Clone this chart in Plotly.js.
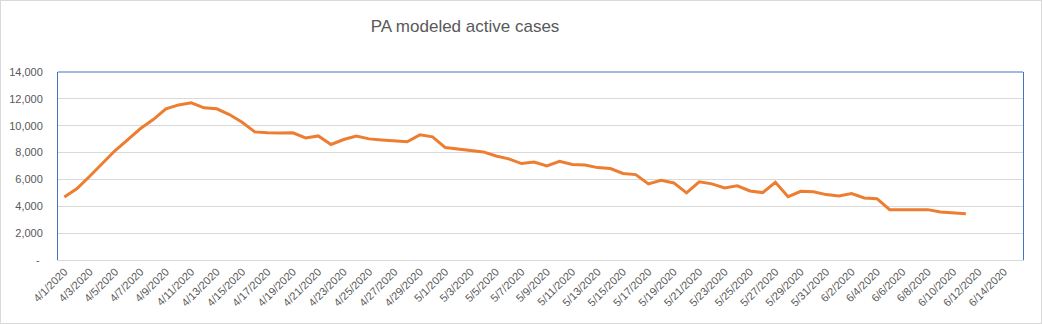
<!DOCTYPE html>
<html>
<head>
<meta charset="utf-8">
<script src="https://cdn.plot.ly/plotly-3.0.1.min.js"></script>
<style>
html,body{margin:0;padding:0;background:#fff;}
#wrap{position:relative;width:1042px;height:324px;}
#chart{width:1042px;height:324px;}
#frame{position:absolute;left:0;top:0;width:1040px;height:322px;border:1px solid #d9d9d9;pointer-events:none;}
</style>
</head>
<body>
<div id="wrap"><div id="chart"></div><div id="frame"></div></div>
<script>
// Data
const dates = [
  '2020-04-01','2020-04-02','2020-04-03','2020-04-04','2020-04-05','2020-04-06','2020-04-07','2020-04-08','2020-04-09','2020-04-10',
  '2020-04-11','2020-04-12','2020-04-13','2020-04-14','2020-04-15','2020-04-16','2020-04-17','2020-04-18','2020-04-19','2020-04-20',
  '2020-04-21','2020-04-22','2020-04-23','2020-04-24','2020-04-25','2020-04-26','2020-04-27','2020-04-28','2020-04-29','2020-04-30',
  '2020-05-01','2020-05-02','2020-05-03','2020-05-04','2020-05-05','2020-05-06','2020-05-07','2020-05-08','2020-05-09','2020-05-10',
  '2020-05-11','2020-05-12','2020-05-13','2020-05-14','2020-05-15','2020-05-16','2020-05-17','2020-05-18','2020-05-19','2020-05-20',
  '2020-05-21','2020-05-22','2020-05-23','2020-05-24','2020-05-25','2020-05-26','2020-05-27','2020-05-28','2020-05-29','2020-05-30',
  '2020-05-31','2020-06-01','2020-06-02','2020-06-03','2020-06-04','2020-06-05','2020-06-06','2020-06-07','2020-06-08','2020-06-09',
  '2020-06-10','2020-06-11'
];
const activeCases = [
  4700, 5320, 6240, 7230, 8150, 8970, 9790, 10460, 11250, 11550,
  11700, 11330, 11260, 10830, 10260, 9540, 9470, 9460, 9470, 9090,
  9240, 8600, 8970, 9230, 9020, 8940, 8870, 8800, 9320, 9170,
  8370, 8270, 8150, 8050, 7750, 7530, 7180, 7300, 7010, 7350,
  7110, 7080, 6880, 6810, 6440, 6360, 5670, 5940, 5740, 5000,
  5820, 5670, 5370, 5520, 5140, 5020, 5790, 4720, 5120, 5080,
  4870, 4770, 4950, 4620, 4570, 3750, 3750, 3750, 3750, 3580,
  3510, 3450
];
const xTickVals = [
  '2020-04-01','2020-04-03','2020-04-05','2020-04-07','2020-04-09','2020-04-11','2020-04-13','2020-04-15','2020-04-17','2020-04-19',
  '2020-04-21','2020-04-23','2020-04-25','2020-04-27','2020-04-29','2020-05-01','2020-05-03','2020-05-05','2020-05-07','2020-05-09',
  '2020-05-11','2020-05-13','2020-05-15','2020-05-17','2020-05-19','2020-05-21','2020-05-23','2020-05-25','2020-05-27','2020-05-29',
  '2020-05-31','2020-06-02','2020-06-04','2020-06-06','2020-06-08','2020-06-10','2020-06-12','2020-06-14'
];
const xTickLabels = [
  '4/1/2020','4/3/2020','4/5/2020','4/7/2020','4/9/2020','4/11/2020','4/13/2020','4/15/2020','4/17/2020','4/19/2020',
  '4/21/2020','4/23/2020','4/25/2020','4/27/2020','4/29/2020','5/1/2020','5/3/2020','5/5/2020','5/7/2020','5/9/2020',
  '5/11/2020','5/13/2020','5/15/2020','5/17/2020','5/19/2020','5/21/2020','5/23/2020','5/25/2020','5/27/2020','5/29/2020',
  '5/31/2020','6/2/2020','6/4/2020','6/6/2020','6/8/2020','6/10/2020','6/12/2020','6/14/2020'
];
const yTickVals = [0, 2000, 4000, 6000, 8000, 10000, 12000, 14000];
const yTickLabels = ['-\u00a0', '2,000', '4,000', '6,000', '8,000', '10,000', '12,000', '14,000'];

const font = 'Liberation Sans, Arial, sans-serif';
const gray = '#595959';

const trace = {
  type: 'scatter',
  mode: 'lines',
  x: dates,
  y: activeCases,
  line: {color: '#ED7D31', width: 3},
  hoverinfo: 'x+y'
};

const layout = {
  width: 1042,
  height: 324,
  paper_bgcolor: '#ffffff',
  plot_bgcolor: '#ffffff',
  margin: {l: 58, r: 19, t: 72, b: 64},
  showlegend: false,
  title: {
    text: 'PA modeled active cases',
    font: {family: font, size: 17, color: gray},
    xref: 'container', yref: 'container',
    x: 465 / 1042, xanchor: 'center',
    y: 1 - 26 / 324, yanchor: 'middle'
  },
  xaxis: {
    type: 'date',
    range: ['2020-03-31 12:00', '2020-06-15 12:00'],
    tickmode: 'array',
    tickvals: xTickVals,
    ticktext: xTickLabels,
    tickangle: -45,
    tickfont: {family: font, size: 11, color: gray},
    showgrid: false,
    zeroline: false,
    showline: true,
    linecolor: '#d9d9d9',
    linewidth: 1,
    ticks: ''
  },
  yaxis: {
    range: [0, 14000],
    tickmode: 'array',
    tickvals: yTickVals,
    ticktext: yTickLabels,
    tickfont: {family: font, size: 11, color: gray},
    showgrid: true,
    gridcolor: '#d9d9d9',
    gridwidth: 1,
    zeroline: false,
    showline: true,
    mirror: true,
    linecolor: '#4472C4',
    linewidth: 1,
    ticks: '',
    ticklabelstandoff: 12
  },
  shapes: [
    {type: 'line', xref: 'paper', yref: 'paper', x0: 0, x1: 1, y0: 1, y1: 1,
     line: {color: '#4472C4', width: 1}}
  ]
};

Plotly.newPlot('chart', [trace], layout, {displayModeBar: false, staticPlot: true});
</script>
</body>
</html>
